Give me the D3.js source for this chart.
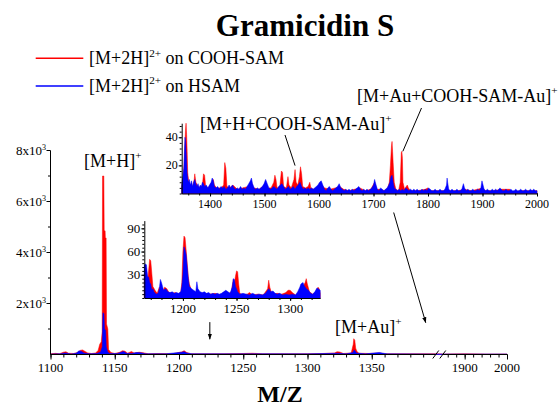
<!DOCTYPE html>
<html><head><meta charset="utf-8">
<script src="https://cdn.jsdelivr.net/npm/d3@7"></script>
</head><body style="margin:0">
<svg id="chart" width="559" height="407"><style>text, tspan { font-family: "Liberation Serif", "Times New Roman", serif !important; }</style></svg>
<script>
// Gramicidin S mass spectra: [m/z, intensity] pairs
const seriesLabels = ["on COOH-SAM", "on HSAM"];
const seriesColors = ["#ff0000", "#0000ff"];
const FONT = "serif";

// full range spectrum (counts)
const mainRed = [[1100,30],[1104,45],[1107,30],[1110,90],[1112,110],[1114,50],[1118,40],[1121,80],[1123,160],[1125,180],[1127,120],[1129,60],[1132,40],[1135,60],[1137,150],[1138.3,400],[1139.5,500],[1140.2,900],[1140.5,7000],[1141.5,7000],[1141.8,4850],[1142.5,4850],[1142.7,4570],[1143.3,4570],[1143.6,1200],[1144.6,1000],[1145.2,200],[1147,80],[1150,40],[1154,90],[1156,150],[1158,130],[1160,50],[1163,120],[1165,60],[1169,90],[1172,70],[1176,30],[1185,40],[1195,30],[1202,100],[1204,150],[1206,80],[1209,30],[1220,30],[1235,30],[1250,40],[1257,50],[1265,30],[1285,30],[1300,30],[1312,40],[1321,60],[1323,110],[1325,100],[1328,40],[1334,60],[1335.6,400],[1336,620],[1336.8,560],[1337.5,250],[1338.5,120],[1340,50],[1348,40],[1356,60],[1360,30],[1380,30],[1400,30],[1850,20],[1900,30],[1950,20],[2000,20]];
const mainBlue = [[1100,20],[1108,30],[1111,60],[1113,50],[1116,20],[1120,50],[1122,140],[1124,130],[1126,60],[1130,30],[1136,40],[1139,100],[1140.3,300],[1140.8,1640],[1141.6,1600],[1142,1000],[1142.9,950],[1143.4,300],[1144.5,100],[1146,40],[1152,40],[1155,90],[1157,120],[1159,50],[1163,40],[1167,80],[1170,70],[1174,30],[1190,30],[1202,90],[1204,110],[1206,60],[1210,30],[1240,25],[1260,30],[1300,25],[1324,50],[1330,25],[1335.5,80],[1336.2,180],[1337,150],[1338,60],[1345,25],[1356,80],[1358,60],[1362,25],[1400,20],[1850,20],[2000,20]];

// high-mass inset spectrum
const inset1Red = [[1348,5],[1351,12],[1353,25],[1355,45],[1356,50],[1357,42],[1358,30],[1359,15],[1361,8],[1364,6],[1368,5],[1371,10],[1372,14],[1374,8],[1378,5],[1383,4],[1386,6],[1388,14],[1390,13],[1392,5],[1397,4],[1403,8],[1406,10],[1408,6],[1412,4],[1420,4],[1425,6],[1427,22],[1429,18],[1431,5],[1436,4],[1442,6],[1450,3],[1460,4],[1470,5],[1476,8],[1480,4],[1490,3],[1500,6],[1505,4],[1512,4],[1517,8],[1519,13],[1521,10],[1523,4],[1528,5],[1531,16],[1533,15],[1535,5],[1540,4],[1543,12],[1545,6],[1549,4],[1554,10],[1556,17],[1558,8],[1561,6],[1564,12],[1566,19],[1568,14],[1570,5],[1575,4],[1580,5],[1583,8],[1585,4],[1590,3],[1595,4],[1600,3],[1605,6],[1610,4],[1620,3],[1630,4],[1638,5],[1645,3],[1655,2],[1665,3],[1675,4],[1685,2],[1695,3],[1702,8],[1706,3],[1712,3],[1720,2],[1726,4],[1729,8],[1731,20],[1733,34],[1734,37],[1735,30],[1736,22],[1738,8],[1741,3],[1746,2],[1749,8],[1751,29],[1752,30],[1753,25],[1754,8],[1757,3],[1760,5],[1762,6],[1764,4],[1768,2],[1780,2],[1795,3],[1800,4],[1803,2],[1815,2],[1830,2],[1836,3],[1840,2],[1855,2],[1866,3],[1880,2],[1900,4],[1905,2],[1920,2],[1935,3],[1950,3],[1952,1],[1970,2],[1985,2],[2000,2]];
const inset1Blue = [[1348,6],[1350,12],[1352,18],[1353,30],[1354,40],[1355,38],[1356,30],[1357,22],[1358,14],[1360,8],[1362,10],[1364,6],[1366,9],[1368,5],[1370,8],[1372,10],[1374,7],[1376,5],[1378,7],[1380,4],[1382,6],[1384,5],[1386,8],[1388,7],[1390,5],[1393,6],[1396,4],[1399,6],[1402,8],[1404,11],[1406,9],[1408,5],[1411,4],[1414,5],[1417,3],[1420,5],[1423,4],[1426,5],[1429,3],[1432,4],[1435,6],[1438,4],[1441,6],[1444,4],[1447,3],[1450,4],[1453,3],[1456,5],[1459,3],[1462,4],[1465,3],[1468,5],[1471,7],[1474,9],[1476,11],[1478,7],[1481,4],[1484,3],[1487,4],[1490,3],[1493,4],[1496,5],[1499,7],[1502,10],[1505,7],[1508,4],[1511,3],[1514,4],[1517,5],[1520,4],[1523,3],[1526,5],[1529,6],[1532,7],[1535,5],[1538,3],[1541,4],[1544,5],[1547,3],[1550,4],[1553,5],[1556,3],[1559,5],[1562,6],[1565,8],[1568,5],[1571,3],[1574,4],[1577,3],[1580,4],[1583,3],[1586,4],[1589,3],[1592,4],[1595,5],[1598,6],[1601,8],[1604,9],[1607,6],[1610,3],[1613,2],[1616,4],[1619,5],[1622,3],[1625,2],[1628,3],[1631,4],[1634,5],[1637,7],[1640,4],[1643,3],[1646,2],[1649,3],[1652,2],[1655,3],[1658,2],[1661,3],[1664,2],[1667,3],[1670,4],[1673,5],[1676,3],[1679,2],[1682,3],[1685,2],[1688,3],[1691,2],[1694,3],[1697,4],[1700,6],[1702,10],[1704,7],[1707,3],[1710,2],[1713,4],[1716,3],[1719,2],[1722,3],[1725,4],[1728,6],[1730,8],[1732,12],[1734,13],[1736,8],[1738,4],[1741,3],[1744,2],[1747,3],[1750,2],[1753,3],[1756,2],[1759,4],[1762,3],[1765,2],[1768,3],[1771,2],[1774,3],[1777,2],[1780,3],[1783,2],[1786,2],[1789,3],[1792,2],[1795,3],[1798,2],[1801,4],[1804,3],[1807,2],[1810,2],[1813,3],[1816,2],[1819,2],[1822,3],[1825,2],[1828,2],[1831,3],[1834,6],[1835,11],[1836,8],[1838,3],[1841,2],[1844,3],[1847,2],[1850,2],[1853,3],[1856,2],[1859,2],[1862,3],[1865,7],[1867,4],[1870,2],[1873,3],[1876,2],[1879,2],[1882,3],[1885,2],[1888,2],[1891,3],[1894,2],[1897,4],[1899,9],[1901,6],[1903,3],[1906,2],[1909,3],[1912,2],[1915,2],[1918,3],[1921,2],[1924,3],[1927,2],[1930,3],[1932,4],[1934,3],[1937,2],[1940,2],[1943,3],[1946,2],[1949,2],[1952,3],[1955,2],[1958,2],[1961,3],[1964,2],[1967,2],[1970,3],[1973,2],[1976,2],[1979,3],[1982,2],[1985,2],[1988,3],[1991,2],[1994,3],[1997,2],[2000,2]];

// low-mass inset spectrum
const inset2Red = [[1164,30],[1165,40],[1166,38],[1167,20],[1168,35],[1169,50],[1170,48],[1171,32],[1172,15],[1174,10],[1176,6],[1178,14],[1179,10],[1181,8],[1183,14],[1185,12],[1187,7],[1190,6],[1193,7],[1196,5],[1198,8],[1199,20],[1200,60],[1201,80],[1202,78],[1203,62],[1204,45],[1205,28],[1206,18],[1208,10],[1210,6],[1213,8],[1216,5],[1220,6],[1225,5],[1230,6],[1235,4],[1239,8],[1242,5],[1245,8],[1247,24],[1248,20],[1249,28],[1250,35],[1251,34],[1252,18],[1253,6],[1256,4],[1260,5],[1262,7],[1265,4],[1270,5],[1275,4],[1279,12],[1280,23],[1281,14],[1283,5],[1288,6],[1292,5],[1296,7],[1298,10],[1300,10],[1302,7],[1305,4],[1308,6],[1310,16],[1312,15],[1314,20],[1315,25],[1316,18],[1318,8],[1321,5],[1324,8],[1326,14],[1327,12],[1328,6]];
const inset2Blue = [[1164,42],[1165,44],[1166,43],[1167,28],[1168,27],[1169,20],[1170,18],[1171,10],[1172,12],[1173,8],[1175,5],[1177,6],[1178,12],[1179,24],[1180,20],[1181,15],[1182,10],[1184,12],[1186,8],[1188,7],[1190,8],[1192,6],[1194,7],[1196,6],[1198,8],[1199,15],[1200,30],[1201,66],[1202,62],[1203,56],[1204,40],[1205,25],[1206,15],[1208,12],[1210,10],[1212,8],[1213,21],[1214,12],[1216,8],[1218,7],[1220,8],[1222,6],[1224,7],[1226,5],[1228,6],[1230,5],[1232,6],[1234,5],[1236,6],[1238,8],[1240,10],[1242,8],[1244,6],[1246,14],[1247,25],[1248,24],[1249,15],[1250,12],[1251,8],[1253,5],[1256,6],[1259,5],[1262,4],[1265,6],[1268,4],[1271,5],[1274,4],[1277,6],[1279,10],[1280,12],[1282,8],[1284,9],[1286,6],[1288,5],[1290,6],[1293,4],[1296,5],[1299,4],[1302,5],[1305,4],[1307,8],[1309,14],[1310,18],[1312,20],[1313,16],[1315,12],[1317,10],[1319,6],[1321,5],[1323,8],[1325,13],[1326,12],[1328,10]];

// tick labels
const mainXTicks = [1100, 1150, 1200, 1250, 1300, 1350, 1900, 2000];
const mainYTicks = [2000, 4000, 6000, 8000];
const inset1XTicks = [1400, 1500, 1600, 1700, 1800, 1900, 2000];
const inset1YTicks = [20, 40];
const inset2XTicks = [1200, 1250, 1300];
const inset2YTicks = [30, 60, 90];

const svg = d3.select("#chart");

// scales (main x axis is broken between 1400 and 1850)
const xMain = d3.scaleLinear().domain([1100, 1400, 1850, 2000]).range([50.5, 436, 443.5, 507]);
const yMain = d3.scaleLinear().domain([0, 8000]).range([354.5, 150.5]);
const xIn1 = d3.scaleLinear().domain([1348, 2000]).range([181.7, 537]);
const yIn1 = d3.scaleLinear().domain([0, 50]).range([193.5, 123.2]);
const xIn2 = d3.scaleLinear().domain([1164, 1328]).range([144.3, 320.2]);
const yIn2 = d3.scaleLinear().domain([0, 100]).range([298, 220.6]);

function spectrum(data, x, y, color) {
  const area = d3.area().x(d => x(d[0])).y0(y(0)).y1(d => y(d[1]));
  svg.append("path").datum(data).attr("d", area)
    .attr("fill", color).attr("stroke", color).attr("stroke-width", 0.5);
}

// plain label text, serif
function label(x, y, size, str, anchor, weight) {
  const t = svg.append("text").attr("x", x).attr("y", y).attr("font-size", size)
    .style("font-family", FONT).attr("text-anchor", anchor || "start");
  if (weight) t.attr("font-weight", weight);
  if (str !== null) t.text(str);
  return t;
}

// label followed by a superscript and optional trailing text
function supText(x, y, size, main, sup, tail, anchor) {
  const t = label(x, y, size, null, anchor);
  t.append("tspan").text(main);
  t.append("tspan").attr("font-size", size * 0.62).attr("dy", -size * 0.42).text(sup);
  if (tail) t.append("tspan").attr("dy", size * 0.42).text(tail);
  return t;
}

function line(x1, y1, x2, y2, marker) {
  const l = svg.append("line").attr("x1", x1).attr("y1", y1).attr("x2", x2).attr("y2", y2)
    .attr("stroke", "#000").attr("stroke-width", 1);
  if (marker) l.attr("marker-end", "url(#arrow)");
  return l;
}

svg.append("defs").append("marker").attr("id", "arrow")
  .attr("viewBox", "0 0 10 10").attr("refX", 9).attr("refY", 5)
  .attr("markerWidth", 6).attr("markerHeight", 6).attr("orient", "auto")
  .append("path").attr("d", "M0,1.5L10,5L0,8.5Z").attr("fill", "#000");

// spectra
spectrum(mainRed, xMain, yMain, seriesColors[0]);
spectrum(mainBlue, xMain, yMain, seriesColors[1]);
spectrum(inset1Red, xIn1, yIn1, seriesColors[0]);
spectrum(inset1Blue, xIn1, yIn1, seriesColors[1]);
spectrum(inset2Red, xIn2, yIn2, seriesColors[0]);
spectrum(inset2Blue, xIn2, yIn2, seriesColors[1]);

// axis helper: tick marks from d3 axes, labels as own text elements
function drawAxis(axisFn, scale, pos, major, minor, majorSize, minorSize, fontSize, keepDomain) {
  const bottom = axisFn === d3.axisBottom;
  const tr = bottom ? `translate(0,${pos})` : `translate(${pos},0)`;
  [[minor, minorSize], [major, majorSize]].forEach(([vals, size], i) => {
    const g = svg.append("g").attr("transform", tr)
      .call(axisFn(scale).tickValues(vals).tickSize(size).tickSizeOuter(0).tickFormat(""));
    g.attr("font-family", null).attr("font-size", null);
    g.selectAll("text").remove();
    if (i === 0 || !keepDomain) g.select(".domain").remove();
    else g.select(".domain").attr("stroke", "#000");
    g.selectAll(".tick line").attr("stroke", "#000");
  });
  major.forEach(v => {
    if (bottom) label(scale(v), pos + majorSize + 2 + fontSize * 0.8, fontSize, String(v), "middle");
    else label(pos - majorSize - 1, scale(v) + fontSize * 0.33, fontSize, String(v), "end");
  });
}

// main x axis with break
const y0 = yMain(0);
drawAxis(d3.axisBottom, xMain, y0, mainXTicks,
  d3.range(1100, 1400, 10).concat(d3.range(1860, 2001, 20)), 5, 3, 13);
const bx = (xMain(1400) + xMain(1850)) / 2;
line(xMain(1100), y0, bx - 3.5, y0);
line(bx + 2.5, y0, xMain(2000), y0);
line(bx - 7, y0 + 4, bx - 1, y0 - 4);
line(bx, y0 + 4, bx + 6, y0 - 4);

// main y axis
const ax = xMain(1100);
line(ax, yMain(0), ax, yMain(8000));
d3.range(1000, 8001, 1000).forEach(v => {
  const major = mainYTicks.includes(v);
  line(ax - (major ? 4 : 2.5), yMain(v), ax, yMain(v));
});
mainYTicks.forEach(v => {
  supText(ax - 4.5, yMain(v) + 4.5, 13, `${v / 1000}x10`, "3", null, "end");
});

// inset 1 axes
drawAxis(d3.axisBottom, xIn1, yIn1(0), inset1XTicks, d3.range(1360, 2001, 20), 3, 2, 12, true);
drawAxis(d3.axisLeft, yIn1, xIn1(1348), inset1YTicks, d3.range(0, 51, 4), 3, 2, 12, true);

// inset 2 axes
drawAxis(d3.axisBottom, xIn2, yIn2(0), inset2XTicks, d3.range(1170, 1329, 10), 3, 2, 13, true);
drawAxis(d3.axisLeft, yIn2, xIn2(1164), inset2YTicks, d3.range(0, 100, 5), 3, 2, 13, true);

// peak annotations
supText(84, 167, 18, "[M+H]", "+");
supText(335, 333, 18, "[M+Au]", "+");
supText(200, 130, 18, "[M+H+COOH-SAM-Au]", "+");
supText(357, 101.5, 18, "[M+Au+COOH-SAM-Au]", "+");
line(285, 135, xIn1(1556), yIn1(17) - 4);
line(421.5, 108, xIn1(1752) + 1, yIn1(30));

// arrows from insets to the main axis
line(xMain(1224), yMain(1270), xMain(1224), yMain(600), true);
line(xIn1(1737), yIn1(0) + 19, xMain(1392), yMain(1250), true);

// title, legend, axis title
label(305, 36, 31, "Gramicidin S", "middle", "bold");
[58.3, 86].forEach((ly, i) => {
  svg.append("line").attr("x1", 35.7).attr("x2", 83.3).attr("y1", ly).attr("y2", ly)
    .attr("stroke", seriesColors[i]).attr("stroke-width", 1.5);
  supText(89, ly + 6, 18, "[M+2H]", "2+", " " + seriesLabels[i]);
});
label(280, 402, 24, "M/Z", "middle", "bold");
</script></body></html>
